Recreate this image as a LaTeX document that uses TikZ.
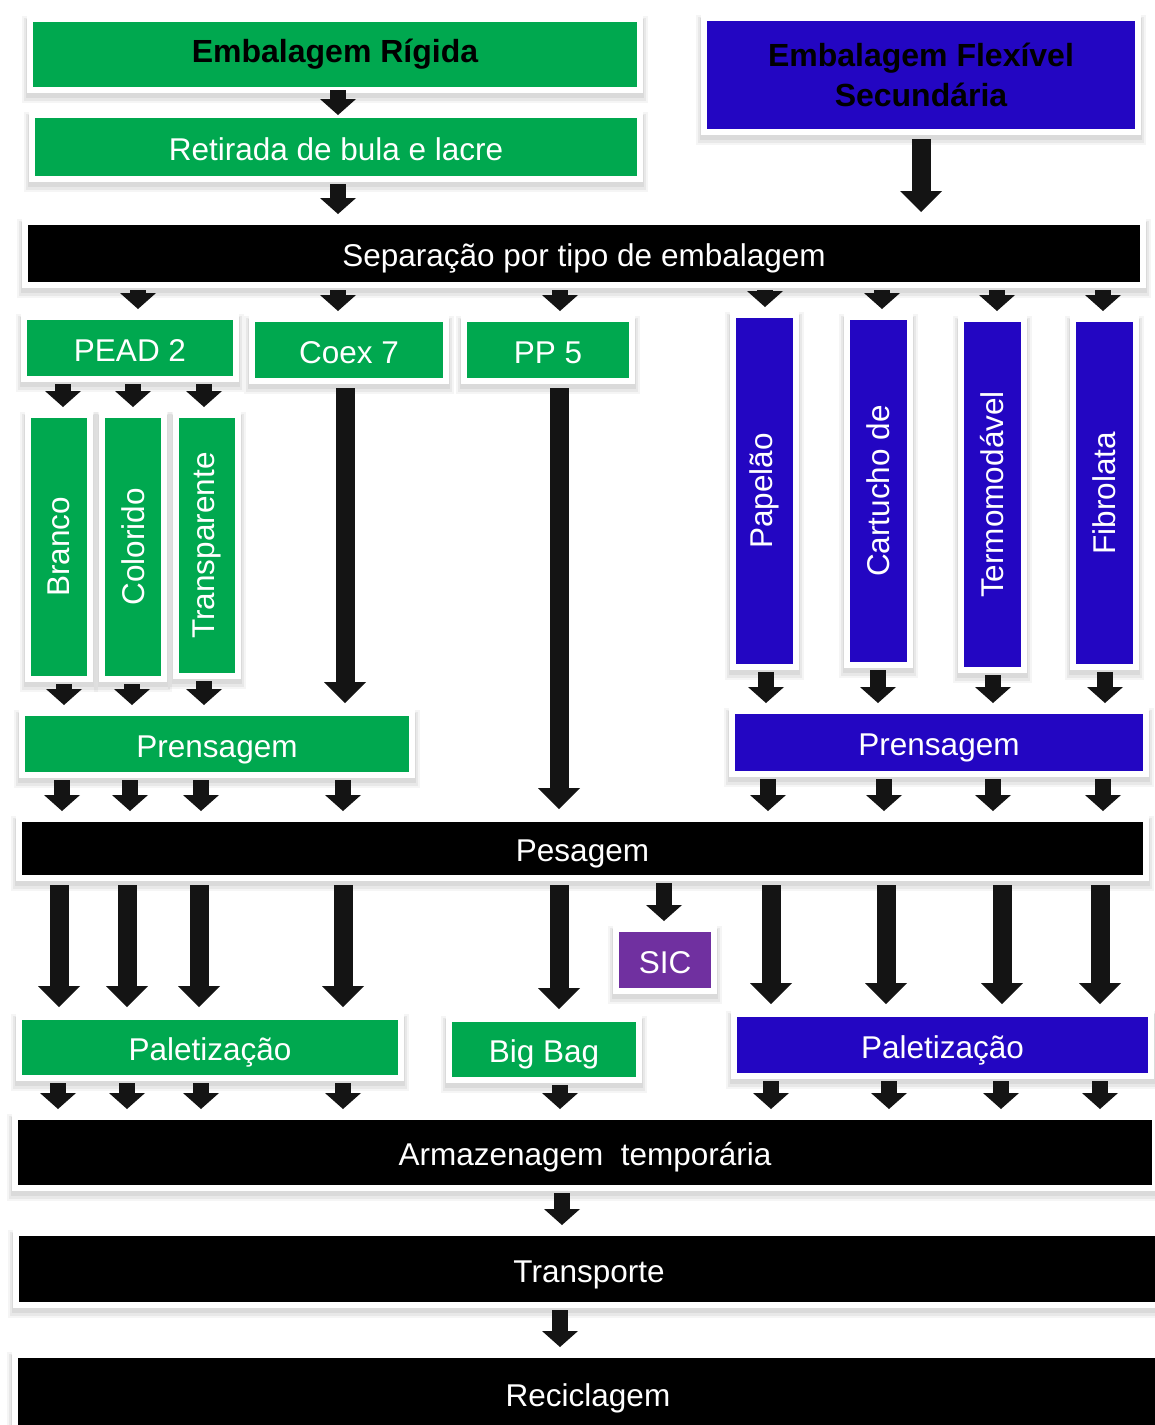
\documentclass[tikz,border=0pt]{standalone}
\usepackage{fontspec}
\setmainfont{Liberation Sans}
\usetikzlibrary{arrows.meta}
\definecolor{gbox}{HTML}{00A84F}
\definecolor{bbox}{HTML}{2306C2}
\definecolor{pbox}{HTML}{7030A0}
\definecolor{arrowc}{HTML}{141414}
\newcommand\bigfs{\fontsize{31.5}{40}\selectfont}
\newcommand\headfs{\fontsize{32}{40}\selectfont\bfseries}
\newcommand\flowarrow[4][sarr]{\draw[#1] (#2.south -| #4,0) -- (#3.north -| #4,0);}
\tikzset{
 softshadow/.style={
   preaction={draw=black, draw opacity=0.04, line width=16pt, transform canvas={yshift=-5pt}},
   preaction={draw=black, draw opacity=0.05, line width=12pt, transform canvas={yshift=-5pt}},
   preaction={draw=black, draw opacity=0.06, line width=8pt, transform canvas={yshift=-4pt}}},
 box/.style={rectangle, draw=white, line width=6pt, inner sep=0pt, font=\bigfs, text=white, align=center,
   text height=27pt, text depth=1pt, softshadow},
 gbx/.style={box, fill=gbox},
 bbx/.style={box, fill=bbox},
 kbx/.style={box, fill=black},
 pbx/.style={box, fill=pbox},
 vbox/.style={text height=, text depth=},
 sarr/.style={draw=arrowc, line width=16pt, -{Triangle[width=36pt,length=16pt,line width=0pt]}, shorten <=2pt, shorten >=5pt},
 larr/.style={draw=arrowc, line width=19pt, -{Triangle[width=42pt,length=21pt,line width=0pt]}, shorten <=4pt, shorten >=7pt},
}
\begin{document}
\begin{tikzpicture}[x=1pt,y=-1pt]
\useasboundingbox (0,0) rectangle (1155,1425);
\clip (0,0) rectangle (1155,1425);
\fill[white] (0,0) rectangle (1155,1425);

% top
\node[gbx, vbox, text=black, font=\headfs, minimum width=610pt, minimum height=71pt] (rig) at (335,54.5) {Embalagem Rígida};
\node[gbx, minimum width=608pt, minimum height=64pt] (ret) at (336,147) {Retirada de bula e lacre};
\node[bbx, vbox, text=black, font=\headfs, minimum width=434pt, minimum height=114pt] (flex) at (921,75) {Embalagem Flexível\\Secundária};
\node[kbx, minimum width=1118pt, minimum height=63pt] (sep) at (584,253.5) {Separação por tipo de embalagem};

% second row
\node[gbx, minimum width=212pt, minimum height=62pt] (pead) at (130,348) {PEAD 2};
\node[gbx, minimum width=194pt, minimum height=62pt] (coex) at (349,350) {Coex 7};
\node[gbx, minimum width=168pt, minimum height=62pt] (pp) at (548,350) {PP 5};

\node[gbx, vbox, minimum width=62pt, minimum height=264pt] (branco) at (59,547) {\rotatebox{90}{Branco}};
\node[gbx, vbox, minimum width=62pt, minimum height=264pt] (colorido) at (133,547) {\rotatebox{90}{Colorido}};
\node[gbx, vbox, minimum width=62pt, minimum height=261pt] (transp) at (207,545.5) {\rotatebox{90}{Transparente}};

\node[bbx, vbox, minimum width=63pt, minimum height=352pt] (papelao) at (764.5,491) {\rotatebox{90}{Papelão}};
\node[bbx, vbox, minimum width=63pt, minimum height=348pt] (cartucho) at (878.5,491) {\rotatebox{90}{Cartucho  de}};
\node[bbx, vbox, minimum width=63pt, minimum height=351pt] (termo) at (992.5,494.5) {\rotatebox{90}{Termomodável}};
\node[bbx, vbox, minimum width=63pt, minimum height=348pt] (fibro) at (1104.5,493) {\rotatebox{90}{Fibrolata}};

% prensagem
\node[gbx, minimum width=390pt, minimum height=62pt] (prensG) at (217,744) {Prensagem};
\node[bbx, minimum width=414pt, minimum height=63pt] (prensB) at (939,742.5) {Prensagem};

\node[kbx, minimum width=1127pt, minimum height=59pt] (pes) at (582.5,848.5) {Pesagem};

\node[pbx, minimum width=98pt, minimum height=62pt] (sic) at (665,960) {SIC};

\node[gbx, minimum width=382pt, minimum height=61pt] (paletG) at (210,1047.5) {Paletização};
\node[gbx, minimum width=190pt, minimum height=61pt] (bigbag) at (544,1049.5) {Big Bag};
\node[bbx, minimum width=417pt, minimum height=62pt] (paletB) at (942.5,1045) {Paletização};

\node[kbx, minimum width=1140pt, minimum height=71pt] (arm) at (585,1152.5) {Armazenagem\ \ temporária};
\node[kbx, minimum width=1160pt, minimum height=72pt] (trans) at (596,1269) {\hspace*{-14pt}Transporte};
\node[kbx, minimum width=1170pt, minimum height=76pt] (recic) at (600,1393) {\hspace*{-24pt}Reciclagem};

% connectors
\flowarrow[sarr, shorten <=-3pt, shorten >=-3pt]{rig}{ret}{338}
\flowarrow{ret}{sep}{338}
\flowarrow[larr]{flex}{sep}{921}

\flowarrow{sep}{pead}{138}
\flowarrow{sep}{coex}{338}
\flowarrow{sep}{pp}{560}
\flowarrow{sep}{papelao}{765}
\flowarrow{sep}{cartucho}{882}
\flowarrow{sep}{termo}{997}
\flowarrow{sep}{fibro}{1103}

\flowarrow{pead}{branco}{63}
\flowarrow{pead}{colorido}{133}
\flowarrow{pead}{transp}{204}

\flowarrow{branco}{prensG}{64}
\flowarrow{colorido}{prensG}{132}
\flowarrow{transp}{prensG}{204}
\flowarrow[larr]{coex}{prensG}{345}
\flowarrow[larr]{pp}{pes}{559}

\flowarrow{papelao}{prensB}{766}
\flowarrow{cartucho}{prensB}{878}
\flowarrow{termo}{prensB}{993}
\flowarrow{fibro}{prensB}{1105}

\flowarrow{prensG}{pes}{62}
\flowarrow{prensG}{pes}{130}
\flowarrow{prensG}{pes}{201}
\flowarrow{prensG}{pes}{343}
\flowarrow{prensB}{pes}{768}
\flowarrow{prensB}{pes}{884}
\flowarrow{prensB}{pes}{993}
\flowarrow{prensB}{pes}{1103}

\flowarrow[larr]{pes}{paletG}{59}
\flowarrow[larr]{pes}{paletG}{127}
\flowarrow[larr]{pes}{paletG}{199}
\flowarrow[larr]{pes}{paletG}{343}
\flowarrow[larr]{pes}{bigbag}{559}
\flowarrow{pes}{sic}{664}
\flowarrow[larr]{pes}{paletB}{771}
\flowarrow[larr]{pes}{paletB}{886}
\flowarrow[larr]{pes}{paletB}{1002}
\flowarrow[larr]{pes}{paletB}{1100}

\flowarrow{paletG}{arm}{58}
\flowarrow{paletG}{arm}{127}
\flowarrow{paletG}{arm}{201}
\flowarrow{paletG}{arm}{343}
\flowarrow{bigbag}{arm}{560}
\flowarrow{paletB}{arm}{771}
\flowarrow{paletB}{arm}{889}
\flowarrow{paletB}{arm}{1001}
\flowarrow{paletB}{arm}{1100}

\flowarrow{arm}{trans}{562}
\flowarrow{trans}{recic}{560}
\end{tikzpicture}
\end{document}
